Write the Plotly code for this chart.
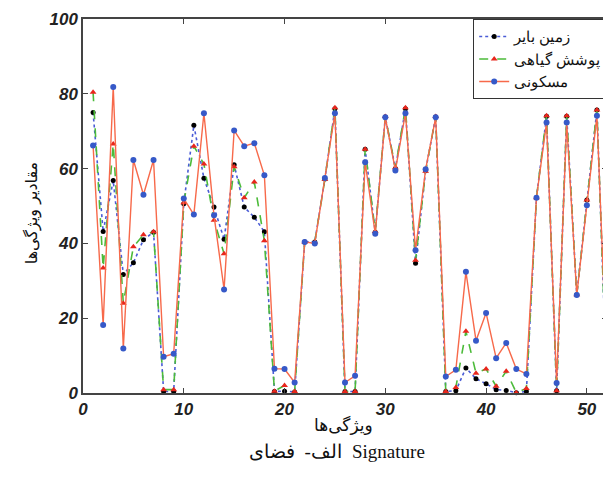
import plotly.graph_objects as go

x_idx = list(range(1, 53))

barren = [75.0, 43.2, 56.8, 31.7, 34.8, 41.0, 43.0, 0.4, 0.4, 50.6,
          71.6, 57.4, 49.7, 41.1, 61.0, 49.7, 47.0, 43.1, 0.4, 0.5,
          0.3, 40.4, 40.4, 57.2, 76.0, 0.4, 0.4, 65.2, 43.0, 73.8,
          60.0, 76.0, 34.7, 59.5, 73.8, 0.4, 0.6, 6.7, 3.8, 2.5,
          0.9, 0.7, 0.1, 0.4, 52.2, 74.0, 0.6, 74.0, 26.3, 51.6,
          75.7, 0.6]

vegetation = [80.4, 33.4, 66.6, 24.0, 39.1, 42.3, 43.1, 0.9, 0.9, 50.9,
              66.0, 61.2, 46.2, 37.2, 60.5, 52.2, 56.4, 40.7, 0.5, 2.0,
              0.4, 40.4, 40.4, 57.1, 76.3, 0.4, 0.4, 65.2, 43.2, 73.9,
              60.2, 76.3, 35.5, 59.3, 73.9, 0.4, 1.5, 16.5, 5.3, 6.4,
              1.8, 5.8, 0.1, 1.2, 52.2, 74.1, 0.6, 74.1, 26.3, 51.6,
              75.7, 0.6]

residential = [66.2, 18.2, 81.8, 11.9, 62.3, 53.0, 62.3, 9.7, 10.5, 52.0,
               47.7, 74.8, 47.5, 27.7, 70.2, 66.0, 66.8, 58.2, 6.5, 6.4,
               2.8, 40.4, 40.0, 57.5, 74.8, 2.8, 4.6, 61.7, 42.6, 73.7,
               59.5, 74.8, 38.2, 59.8, 73.7, 4.4, 6.2, 32.4, 14.0, 21.4,
               9.3, 13.4, 6.4, 5.1, 52.2, 72.3, 2.7, 72.3, 26.2, 50.2,
               74.1, 6.1]

names = ["زمین بایر", "پوشش گیاهی", "مسکونی"]
x_ticks = [0, 10, 20, 30, 40, 50]
y_ticks = [0, 20, 40, 60, 80, 100]

fig = go.Figure()
fig.add_trace(go.Scatter(
    x=x_idx, y=barren, name=names[0], mode="lines+markers",
    line=dict(color="#4a5cd6", width=1.6, dash="dot"),
    marker=dict(color="black", size=5, symbol="circle"),
    cliponaxis=False))
fig.add_trace(go.Scatter(
    x=x_idx, y=vegetation, name=names[1], mode="lines+markers",
    line=dict(color="#4cbb3a", width=1.6, dash="dash"),
    marker=dict(color="#e8261c", size=6, symbol="triangle-up"),
    cliponaxis=False))
fig.add_trace(go.Scatter(
    x=x_idx, y=residential, name=names[2], mode="lines+markers",
    line=dict(color="#f7694a", width=1.4),
    marker=dict(color="#3659c8", size=6, symbol="circle"),
    cliponaxis=False))

tickfont = dict(family="Liberation Sans", size=17, color="#222222",
                weight="bold", style="italic")

fig.update_xaxes(range=[0, 52], tickvals=x_ticks, ticks="inside", ticklen=5,
                 showline=True, linecolor="#444444", linewidth=1.5, mirror="ticks",
                 showgrid=False, zeroline=False, tickfont=tickfont,
                 ticklabeloverflow="allow")
fig.update_yaxes(range=[0, 100], tickvals=y_ticks, ticks="inside", ticklen=5,
                 showline=True, linecolor="#444444", linewidth=1.5, mirror="ticks",
                 showgrid=False, zeroline=False, tickfont=tickfont,
                 ticklabeloverflow="allow")

# the page body adds an 8px offset
OFF = 8
W, H = 611 - OFF, 477 - OFF
L, R, T, B = 83 - OFF, 2, 17 - OFF, H - (393 - OFF)

fig.update_layout(
    width=W, height=H,
    margin=dict(l=L, r=R, t=T, b=B),
    plot_bgcolor="white", paper_bgcolor="white",
    showlegend=True,
    legend=dict(x=1, y=1, xanchor="right", yanchor="top",
                bordercolor="#333333", borderwidth=1.2, bgcolor="white",
                font=dict(family="Noto Sans", size=15, color="#111111"),
                tracegroupgap=0, itemwidth=30,
                entrywidth=112, entrywidthmode="pixels"),
)

plot_w = W - L - R
plot_h = H - T - B
def px(xp):
    return (xp - 83) / plot_w
def py(yp):
    return (393 - yp) / plot_h

fig.add_annotation(text="مقادیر ویژگی‌ها", x=px(20), y=py(212), xref="paper", yref="paper",
                   showarrow=False, textangle=-90,
                   font=dict(family="DejaVu Sans", size=16, color="#111111"))
fig.add_annotation(text="ویژگی‌ها", x=px(344), y=py(437), xref="paper", yref="paper",
                   showarrow=False,
                   font=dict(family="DejaVu Sans", size=17, color="#111111"))

# caption "الف-  فضای Signature": Persian part and Latin word placed side by side
cap_font = dict(family="Liberation Serif, DejaVu Serif", size=19, color="#111111")
fig.add_annotation(text="الف-  فضای", x=px(345), y=py(464), xanchor="right",
                   xref="paper", yref="paper", showarrow=False, font=cap_font)
fig.add_annotation(text="Signature", x=px(351), y=py(464), xanchor="left",
                   xref="paper", yref="paper", showarrow=False, font=cap_font)

fig.write_html("out.html")
